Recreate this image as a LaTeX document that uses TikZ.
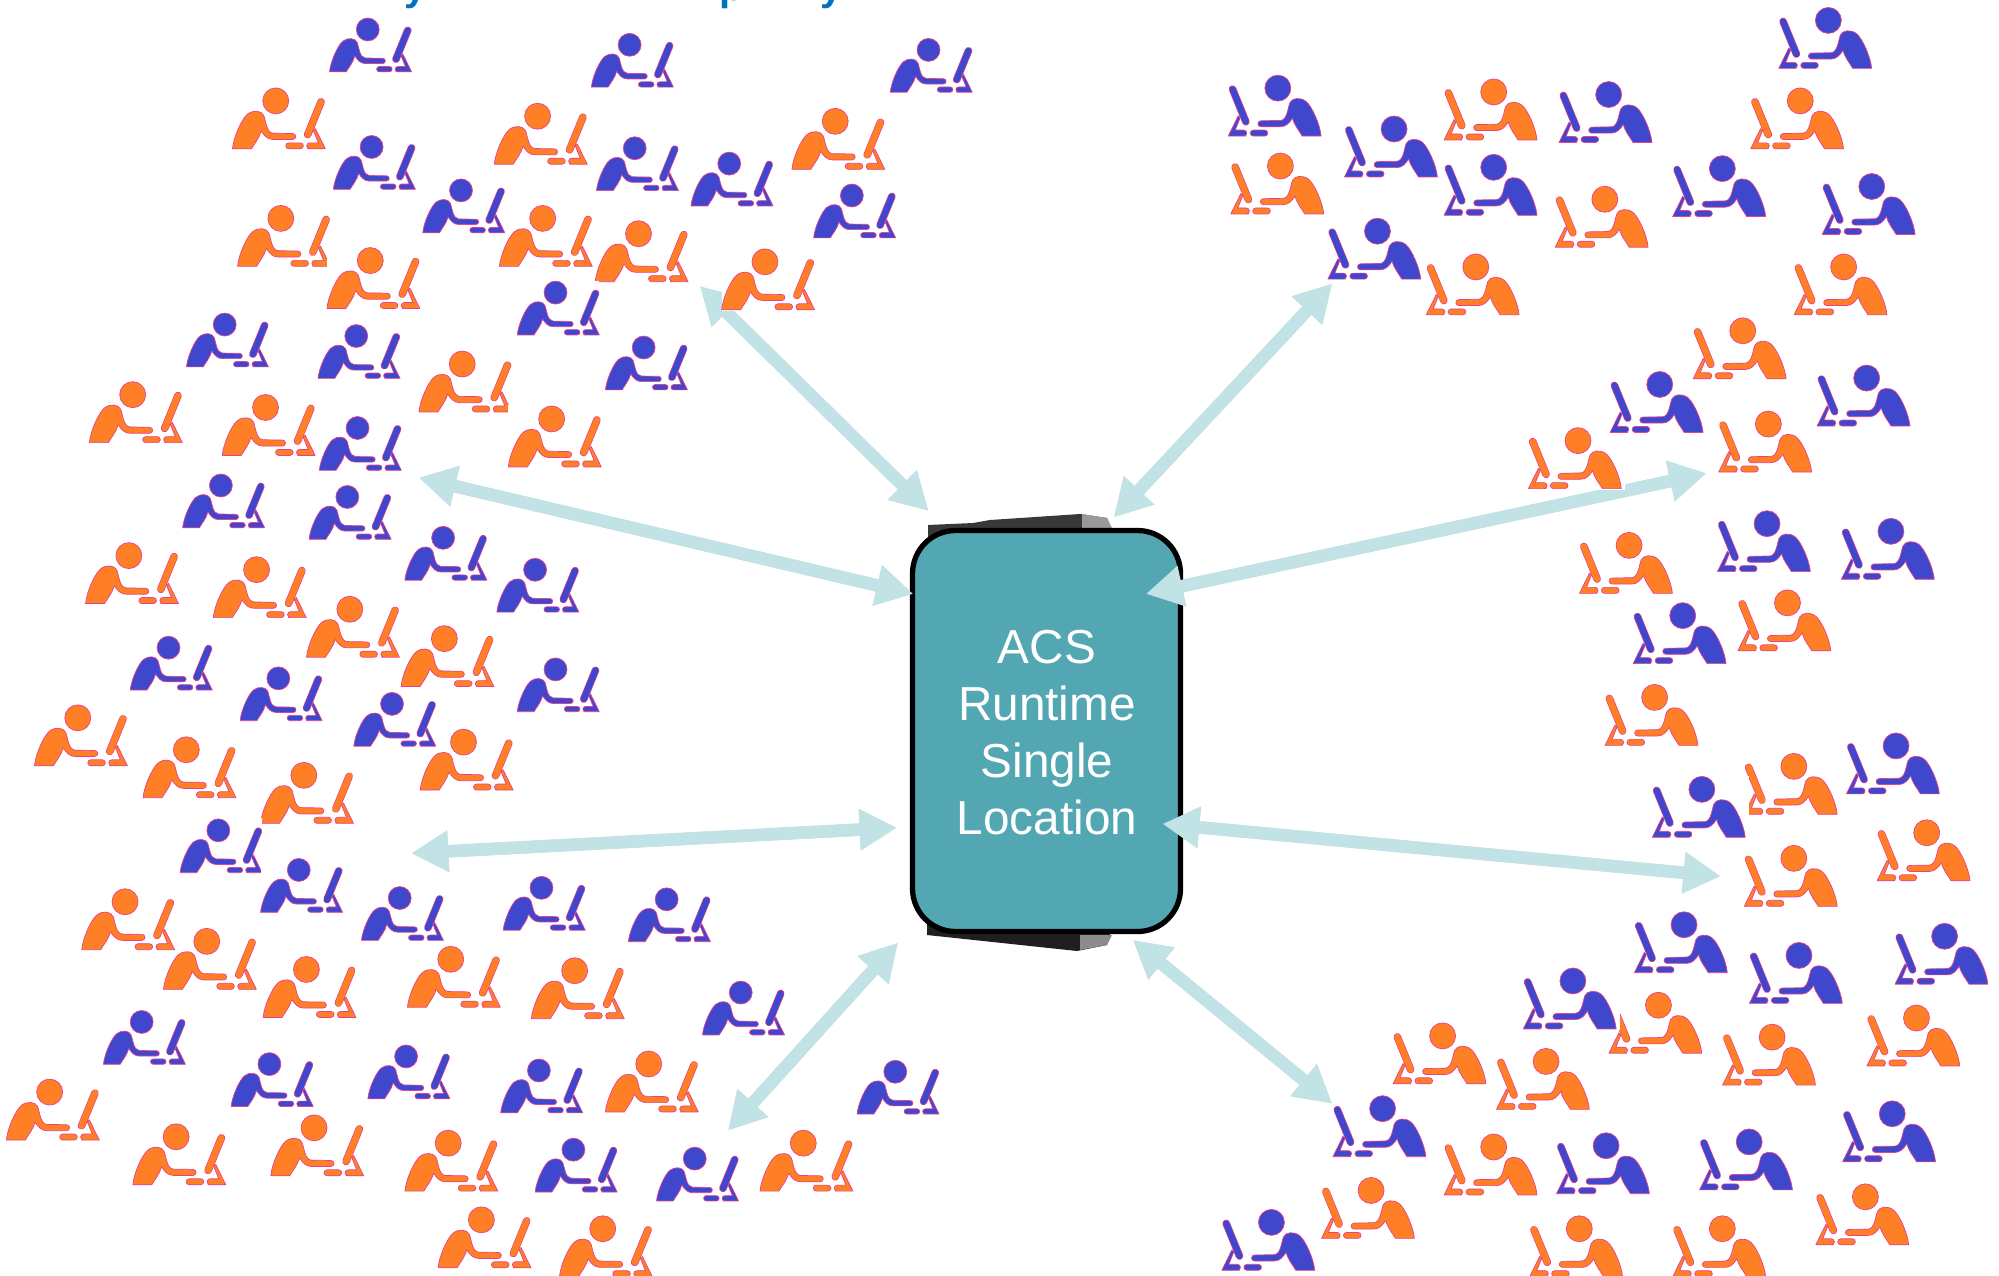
\documentclass[tikz,border=0pt]{standalone}
\usepackage{fontspec}
\setmainfont{Liberation Sans}
\usetikzlibrary{arrows.meta}
\definecolor{iconblue}{HTML}{3F48CC}
\definecolor{iconorange}{HTML}{FF7F27}
\definecolor{iconpink}{HTML}{E8408F}
\definecolor{boxteal}{HTML}{53A7B2}
\definecolor{arrowteal}{HTML}{C2E3E6}
\definecolor{titleblue}{HTML}{0070C0}
\tikzset{
  twoway/.style={line width=12.5pt,draw=arrowteal,{Triangle[length=37pt,width=39pt]}-{Triangle[length=37pt,width=39pt]}},
  twowayshadow/.style={line width=12.5pt,draw=black!60,opacity=.3,{Triangle[length=37pt,width=39pt]}-{Triangle[length=37pt,width=39pt]},shift={(-2pt,-2.5pt)}},
  iconshape/.style={draw=iconpink,line width=.7pt,line join=round},
  hubbox/.style={draw=black,line width=5.3pt,fill=boxteal,rounded corners=43pt,minimum width=268pt,minimum height=401pt,inner sep=0pt},
  hubtext/.style={text=white,align=center,font=\fontsize{47.7}{57}\selectfont},
  titlebit/.style={text=titleblue,anchor=base,inner sep=0pt,font=\bfseries\fontsize{40}{40}\selectfont},
}
\newcommand{\personicon}[1]{%
  \fill[iconshape,fill=#1] (130,144) circle (39);
  \fill[iconshape,fill=#1] (0,0) .. controls (3,35) and (28,90) .. (45,104) .. controls (62,118) and (88,115) .. (94,100) .. controls (100,85) and (102,48) .. (122,47) -- (181,46) arc (90:-90:9) -- (122,28) .. controls (105,28) and (95,40) .. (86,54) .. controls (80,30) and (65,15) .. (57,0) -- cycle;
  \fill[iconshape,fill=#1] (169,0) arc (-90:-270:9) -- (204,18) arc (90:-90:9) -- cycle;
  \fill[iconshape,fill=#1] (226,0) -- (279,0) -- (249,61) -- (243,55) -- (258,18) -- (232,18) arc (90:270:9) -- cycle;
  \draw[iconpink,line width=7.6pt,line cap=round] (226,43) -- (266,141);
  \draw[#1,line width=6.2pt,line cap=round] (226,43) -- (266,141);
}
\newcommand{\leftblue}[2]{\begin{scope}[shift={(#1,#2)},yshift=1pt,x=.294pt,y=.294pt]\fill[white] (0,-3) rectangle (279,185);\personicon{iconblue}\end{scope}}
\newcommand{\leftorange}[2]{\begin{scope}[shift={(#1,#2)},yshift=.6pt,x=.333pt,y=.333pt]\fill[white] (0,-3) rectangle (279,185);\personicon{iconorange}\end{scope}}
\newcommand{\rightperson}[3]{\begin{scope}[shift={(#1,#2)},xshift=89.8pt,yshift=.6pt,x=-.333pt,y=.333pt]\fill[white] (-12,-4) rectangle (279,185);\personicon{#3}\end{scope}}
\begin{document}
\begin{tikzpicture}[x=1.2773pt,y=-1.2773pt]
\useasboundingbox (0pt,0pt) rectangle (1999pt,-1275pt);
\clip (0pt,0pt) rectangle (1999pt,-1275pt);
% clipped heading
\node[titlebit] (ta) at (416pt,0pt) {y};
\node[titlebit] (tb) at (732pt,0pt) {p};
\node[titlebit] (tc) at (832pt,0pt) {y};
% device behind the box
\fill[black!78] (928pt,-525pt) -- (973pt,-523pt) -- (990pt,-520pt) -- (1080pt,-514pt) -- (1107pt,-518pt) -- (1113pt,-535pt) -- (928pt,-545pt) -- cycle;
\fill[black!40] (1082pt,-514pt) -- (1107pt,-518pt) -- (1113pt,-530pt) -- (1082pt,-530pt) -- cycle;
\fill[black!88] (927pt,-920pt) -- (1113pt,-925pt) -- (1107pt,-945pt) -- (1077pt,-951pt) -- (927pt,-935pt) -- cycle;
\fill[black!45] (1080pt,-935pt) -- (1112pt,-935pt) -- (1107pt,-945pt) -- (1080pt,-950pt) -- cycle;
\node[hubbox] (hub) at (1046.5pt,-731pt) {};
\node[hubtext] (hublabel) at (1047pt,-733pt) {ACS\\Runtime\\Single\\Location};
% arrows
\coordinate (a1) at (548,224); \coordinate (a2) at (727,400);
\coordinate (b1) at (328,374); \coordinate (b2) at (715,465);
\coordinate (c1) at (322,668); \coordinate (c2) at (702,648);
\coordinate (d1) at (570,885); \coordinate (d2) at (703,738);
\coordinate (e1) at (1043,222); \coordinate (e2) at (872,405);
\coordinate (f1) at (1336,370.5); \coordinate (f2) at (897,465);
\coordinate (g1) at (1347,686); \coordinate (g2) at (910,645);
\coordinate (h1) at (887,736); \coordinate (h2) at (1043,864);
\foreach \p/\q in {a1/a2,b1/b2,c1/c2,d1/d2,e1/e2,f1/f2,g1/g2,h1/h2}{
  \draw[twowayshadow] (\p) -- (\q);
  \draw[twoway] (\p) -- (\q);
}
% people, left field
\foreach \x/\y in {182/117,387/129,620/133,186/209,391/209,466/221,256/242,565/243,328/323,70/347,174/357,398/366,67/473,167/484,240/515,314/538,27/600,112/625,329/619,204/645,128/775,64/744,206/797,319/789,416/798,474/871,5/893,104/928,212/921,317/933,595/933,343/993,438/1000}{\leftorange{\x}{\y}}
\foreach \x/\y in {258/57,463/69,697/73,261/149,467/150,541/162,331/183,637/187,405/263,146/288,249/297,474/306,250/369,143/414,242/423,317/455,389/480,102/541,188/565,405/558,277/585,141/684,204/715,283/737,394/729,492/738,550/811,81/834,181/867,288/861,392/872,671/873,419/934,514/941}{\leftblue{\x}{\y}}
% people, right field
\foreach \x/\y in {1133/110,1373/117,966/168,1220/194,1119/247,1407/247,1199/383,1348/370,1239/465,1363/510,1259/584,1368/638,1472/690,1368/710,1262/825,1464/835,1351/850,1093/849,1174/869,1133/936,1037/970,1424/975,1200/1000,1312/1000}{\rightperson{\x}{\y}{iconorange}}
\foreach \x/\y in {964/107,1055/139,1223/112,1133/169,1395/54,1312/170,1429/184,1042/219,1263/339,1425/334,1347/448,1444/454,1281/520,1448/622,1296/656,1282/762,1372/786,1486/771,1195/806,1046/906,1221/935,1333/932,1445/910,959/995}{\rightperson{\x}{\y}{iconblue}}
\rightperson{1328}{297}{iconorange}
\end{tikzpicture}
\end{document}
